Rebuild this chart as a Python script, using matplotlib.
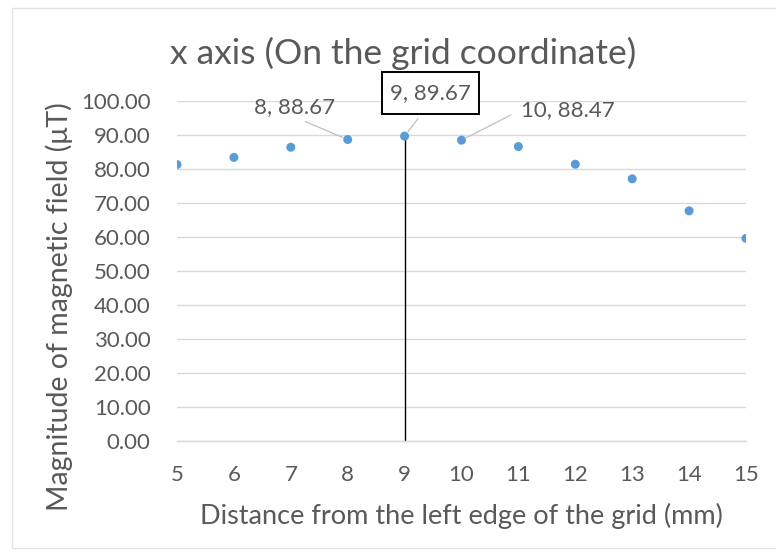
import matplotlib
matplotlib.use("Agg")
import matplotlib.pyplot as plt
from matplotlib.patches import Rectangle
from matplotlib.text import Text

# Data
distance = [5, 6, 7, 8, 9, 10, 11, 12, 13, 14, 15]
magnitude = [81.3, 83.4, 86.4, 88.67, 89.67, 88.47, 86.6, 81.4, 77.1, 67.7, 59.6]
y_ticks = [0, 10, 20, 30, 40, 50, 60, 70, 80, 90, 100]

plt.rcParams["font.family"] = ["Lato", "DejaVu Sans"]
text_color = "#595959"
W, H = 776, 558

fig = plt.figure(figsize=(7.76, 5.58), dpi=100)
ax = fig.add_axes([177 / W, (H - 441) / H, 569 / W, 340 / H])

ax.scatter(distance, magnitude, s=42, color="#5B9BD5", zorder=3, edgecolors="none")

# vertical marker at the peak
ax.plot([distance[4], distance[4]], [0, magnitude[4]], color="black", linewidth=1.0, zorder=2)

# data labels with leader lines
lead = dict(arrowstyle="-", color="#BFBFBF", lw=0.9)
ax.annotate(f"{distance[3]}, {magnitude[3]:.2f}", xy=(distance[3], magnitude[3]),
            xytext=(7.07, 98.2), fontsize=16, color=text_color, ha="center", va="center",
            annotation_clip=False,
            arrowprops=dict(lead, shrinkA=3, shrinkB=4, relpos=(0.5, 0)))
peak_label = ax.annotate(f"{distance[4]}, {magnitude[4]:.2f}", xy=(distance[4], magnitude[4]),
                         xytext=(9.45, 102.4), fontsize=16, color=text_color, ha="center", va="center",
                         annotation_clip=False, zorder=5,
                         arrowprops=dict(lead, shrinkA=12, shrinkB=4, relpos=(0.5, 0)))
ax.annotate(f"{distance[5]}, {magnitude[5]:.2f}", xy=(distance[5], magnitude[5]),
            xytext=(11.87, 97.4), fontsize=16, color=text_color, ha="center", va="center",
            annotation_clip=False,
            arrowprops=dict(lead, shrinkA=6, shrinkB=4, relpos=(0, 0.5)))

ax.set_xlim(5, 15)
ax.set_ylim(0, 100)
ax.set_xticks(distance)
ax.set_yticks(y_ticks)
ax.set_yticklabels([f"{v:.2f}" for v in y_ticks])
ax.grid(axis="y", color="#D9D9D9", linewidth=1.0)
ax.set_axisbelow(True)
for side in ["top", "right", "left"]:
    ax.spines[side].set_visible(False)
ax.spines["bottom"].set_color("#D9D9D9")
ax.spines["bottom"].set_linewidth(1.0)
ax.tick_params(axis="x", length=0, labelsize=16, colors=text_color, pad=17)
ax.tick_params(axis="y", length=0, labelsize=16, colors=text_color, pad=19)

fig.text(461 / W, 1 - 516 / H, "Distance from the left edge of the grid (mm)",
         fontsize=19.5, color=text_color, ha="center", va="center")
fig.text(59 / W, 1 - 307 / H, "Magnitude of magnetic field (μT)",
         fontsize=20.5, color=text_color, ha="center", va="center", rotation=90)
fig.text(403 / W, 1 - 53 / H, "x axis (On the grid coordinate)",
         fontsize=25.5, color=text_color, ha="center", va="center")

# box round the peak label, padded more vertically than horizontally (Excel style)
fig.canvas.draw()
bb = Text.get_window_extent(peak_label)
pad_x, pad_y = 8, 11
ax.add_patch(Rectangle((bb.x0 - pad_x, bb.y0 - pad_y), bb.width + 2 * pad_x, bb.height + 2 * pad_y,
                       transform=None, facecolor="white", edgecolor="black", linewidth=1.4,
                       zorder=4, clip_on=False))

# light frame round the chart
fig.patches.append(Rectangle((12 / W, 10 / H), 1.1, 1 - 18 / H, transform=fig.transFigure,
                             fill=False, edgecolor="#E3E3E3", linewidth=1.0))

fig.savefig("out.png", dpi=100)
